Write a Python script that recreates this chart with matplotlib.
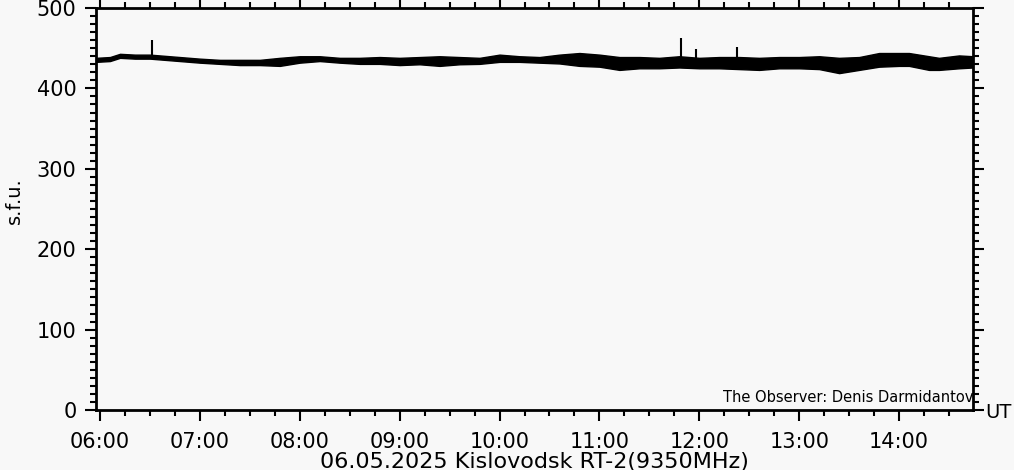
import numpy as np
import matplotlib.pyplot as plt
from matplotlib.ticker import MultipleLocator, FixedLocator

# Time in decimal hours UT, with the lower / upper edges of the noisy flux band (s.f.u.)
t_hours = [5.96, 6.1, 6.2, 6.35, 6.5, 6.65, 6.8, 7.0, 7.2, 7.4, 7.6, 7.8, 8.0, 8.2,
           8.4, 8.6, 8.8, 9.0, 9.2, 9.4, 9.6, 9.8, 10.0, 10.2, 10.4, 10.6, 10.8, 11.0,
           11.2, 11.4, 11.6, 11.8, 12.0, 12.2, 12.4, 12.6, 12.8, 13.0, 13.2, 13.4, 13.6,
           13.8, 14.0, 14.1, 14.3, 14.4, 14.6, 14.74]
flux_low = [433, 434, 438, 437, 437, 435.5, 434, 432, 430.5, 429, 429, 428, 432, 434,
            432, 430.5, 430.5, 429, 430, 428, 430, 430.5, 433, 433, 432, 431, 428, 427,
            423, 425, 425, 426, 425, 425, 424, 423, 425, 425, 424, 419, 423,
            427, 428, 428, 423, 423, 425, 426]
flux_high = [438, 439, 443, 442, 442, 440.5, 439, 437, 435.5, 435.5, 435.5, 438, 440, 440,
             438, 438, 439, 438, 439, 440, 439, 438, 442, 440, 439, 442, 444, 442,
             439, 439, 438, 440, 438, 439, 439, 438, 439, 439, 440, 438, 439,
             444, 444, 444, 440, 438, 441, 440]

# short bursts
spike_t = [6.517, 11.82, 11.97, 12.38]
spike_peak = [460, 463, 449, 451]
spike_base = [438, 433, 432, 432]

hour_ticks = [6, 7, 8, 9, 10, 11, 12, 13, 14]
hour_labels = ['06:00', '07:00', '08:00', '09:00', '10:00', '11:00', '12:00', '13:00', '14:00']

bg = '#f8f8f8'
fig = plt.figure(figsize=(10.14, 4.70), dpi=100, facecolor=bg)
ax = fig.add_axes([96 / 1014, 1 - 410 / 470, (973 - 96) / 1014, (410 - 8) / 470])
ax.set_facecolor(bg)

ax.fill_between(t_hours, flux_low, flux_high, color='black', linewidth=1.0)
ax.vlines(spike_t, spike_base, spike_peak, color='black', linewidth=1.5)

ax.set_xlim(5.96, 14.74)
ax.set_ylim(0, 500)

ax.xaxis.set_major_locator(FixedLocator(hour_ticks))
ax.set_xticklabels(hour_labels)
ax.xaxis.set_minor_locator(MultipleLocator(0.25))
ax.yaxis.set_major_locator(MultipleLocator(100))
ax.yaxis.set_minor_locator(MultipleLocator(10))

for s in ax.spines.values():
    s.set_linewidth(2)
ax.tick_params(which='both', direction='out', top=True, right=True, width=1.5, labelsize=15)
ax.tick_params(which='major', length=8, pad=6)
ax.tick_params(which='minor', length=4)
ax.tick_params(axis='x', which='major', pad=8)

ax.set_ylabel('s.f.u.', fontsize=14)
ax.yaxis.set_label_coords(-0.082, 0.52)

ax.text(1.0, 0.02, 'The Observer: Denis Darmidantov', transform=ax.transAxes,
        ha='right', va='baseline', fontsize=10.5)

fig.text(534 / 1014, 1 - 452 / 470, '06.05.2025 Kislovodsk RT-2(9350MHz)',
         ha='center', va='top', fontsize=16)
fig.text(985 / 1014, 1 - 413 / 470, 'UT', ha='left', va='center', fontsize=14)

fig.savefig('out.png', dpi=100, facecolor=bg)
